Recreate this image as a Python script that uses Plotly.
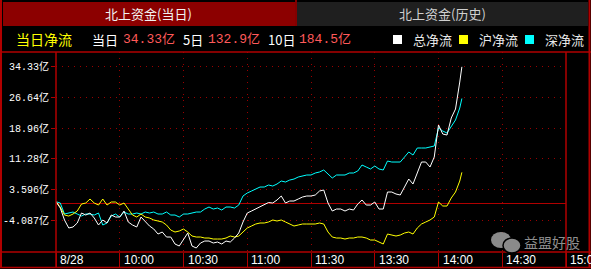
import plotly.graph_objects as go

W, H = 591, 269

# ---- data (亿) ----
minutes = list(range(0, 192, 2)) + [191]   # trading minutes since 9:30

total_flow = [0.55, -1.03, -4.03, -6.03, -5.78, -4.78, -2.28, -2.78, -2.28, -3.53,
              -5.28, -4.03, -4.78, -2.78, -3.28, -3.28, -1.78, -4.53, -5.28, -5.78,
              -3.28, -4.53, -5.53, -6.28, -7.54, -7.04, -8.29, -8.29, -10.04, -10.54,
              -9.04, -7.29, -10.54, -11.04, -9.79, -9.29, -9.29, -9.79, -9.54, -10.04,
              -9.29, -9.54, -8.54, -7.29, -4.53, -2.28, -1.78, -1.28, -0.78, -0.28,
              0.35, 0.23, 0.98, 1.98, 0.23, 0.73, 0.73, 1.23, 1.73, 1.98,
              1.98, 2.23, 3.23, 3.48, 0.23, -1.78, -1.28, -1.28, -1.78, -1.28,
              -1.53, -0.03, 0.98, -0.28, -0.28, 0.48, -1.28, -1.28, 2.98, 2.98,
              2.48, 2.23, 4.23, 6.23, 4.98, 7.99, 10.49, 10.49, 9.24, 11.74,
              19.76, 17.50, 17.25, 21.51, 23.76, 30.52, 34.33]

sh_flow = [0.55, -0.78, -2.78, -3.03, -2.53, -1.78, -0.03, 0.23, 1.23, 0.23,
           -0.28, 1.23, -0.28, 0.48, 0.48, -0.28, 0.23, -1.28, -2.78, -3.28,
           -2.53, -3.28, -3.53, -4.03, -4.28, -4.53, -5.28, -6.54, -7.04, -6.79,
           -6.28, -7.04, -8.04, -8.29, -8.29, -8.54, -8.54, -8.79, -8.79, -8.79,
           -8.54, -8.04, -8.29, -8.04, -7.04, -6.03, -5.53, -5.03, -4.78, -4.78,
           -4.53, -4.03, -4.28, -4.03, -4.53, -5.03, -5.53, -5.28, -5.03, -5.03,
           -5.03, -5.03, -4.78, -5.03, -7.04, -8.29, -8.54, -8.54, -8.79, -8.54,
           -8.54, -8.29, -8.29, -8.54, -9.04, -9.04, -9.54, -10.04, -7.54, -7.79,
           -8.04, -7.79, -7.29, -7.04, -7.54, -6.03, -5.03, -4.53, -4.03, -3.28,
           0.48, -0.53, -0.53, 1.48, 2.98, 5.73, 7.9]

sz_flow = [0.55, 0.23, -2.53, -2.28, -2.03, -2.53, -3.03, -2.53, -2.53, -2.78,
           -2.28, -5.28, -4.78, -3.03, -2.53, -3.28, -2.03, -2.53, -2.53, -2.28,
           -2.53, -2.03, -2.28, -2.03, -2.53, -2.53, -2.03, -2.78, -2.78, -3.28,
           -2.53, -2.53, -2.28, -2.03, -2.03, -1.28, -0.78, -1.28, -1.03, -1.53,
           -0.78, -0.78, -1.03, -0.28, 1.98, 2.73, 3.23, 3.73, 4.23, 4.23,
           4.73, 4.48, 4.98, 5.73, 5.48, 5.98, 6.23, 6.74, 6.99, 7.24,
           7.24, 7.74, 7.99, 8.49, 7.49, 6.49, 7.24, 7.24, 7.24, 7.74,
           7.74, 8.24, 9.74, 9.24, 8.74, 9.49, 8.74, 8.49, 10.74, 10.49,
           10.49, 10.49, 11.74, 13.00, 12.24, 14.00, 14.00, 14.00, 14.25, 14.50,
           19.01, 18.25, 17.75, 19.51, 21.01, 24.01, 26.4]

y_tickvals = [34.33, 26.64, 18.96, 11.28, 3.596, -4.087]
y_ticktext = ["34.33亿", "26.64亿", "18.96亿", "11.28亿", "3.596亿", "-4.087亿"]
x_tickvals = [0, 30, 60, 90, 120, 150, 180, 210, 240]
x_ticktext = ["8/28", "10:00", "10:30", "11:00", "11:30", "13:30", "14:00", "14:30", "15:00"]

summary_labels = ["当日", "5日", "10日"]
summary_values = ["34.33亿", "132.9亿", "184.5亿"]
legend_names = ["总净流", "沪净流", "深净流"]
colors = ["#ffffff", "#ffff00", "#00ffff"]

RED = "#b00000"
DOT = "#9a0000"
MONO = "Liberation Mono, Noto Sans CJK SC, monospace"
CJK = "Noto Sans CJK SC, sans-serif"


def px(x):
    return x / W


def py(y):
    return 1 - y / H


fig = go.Figure()
for name, ys, c in [(legend_names[2], sz_flow, colors[2]),
                    (legend_names[1], sh_flow, colors[1]),
                    (legend_names[0], total_flow, colors[0])]:
    fig.add_trace(go.Scatter(x=minutes, y=ys, mode="lines", name=name,
                             line=dict(color=c, width=1), hoverinfo="skip"))

shapes = []
# tabs
shapes.append(dict(type="rect", xref="paper", yref="paper", x0=px(3), x1=px(295),
                   y0=py(26), y1=py(2), fillcolor="#8c0000", line=dict(width=0), layer="below"))
shapes.append(dict(type="rect", xref="paper", yref="paper", x0=px(297), x1=px(588),
                   y0=py(26), y1=py(2), fillcolor="#1f1f1f", line=dict(width=0), layer="below"))


def hline(y, x0=0, x1=W, w=1.5):
    shapes.append(dict(type="line", xref="paper", yref="paper", x0=px(x0), x1=px(x1),
                       y0=py(y), y1=py(y), line=dict(color=RED, width=w)))


def vline(x, y0=0, y1=H, w=1.5):
    shapes.append(dict(type="line", xref="paper", yref="paper", x0=px(x), x1=px(x),
                       y0=py(y0), y1=py(y1), line=dict(color=RED, width=w)))


hline(52)
hline(252)
hline(267.5)
vline(1, 0, 268, 2)
vline(589.5, 0, 268, 2)
vline(296, 0, 26, 1.5)
vline(56, 52, 268)
vline(566, 52, 268)

# legend squares
for xs, c in zip([393, 459, 525], colors):
    shapes.append(dict(type="rect", xref="paper", yref="paper", x0=px(xs), x1=px(xs + 9),
                       y0=py(44), y1=py(35), fillcolor=c, line=dict(width=0)))

# watermark icon
shapes.append(dict(type="circle", xref="paper", yref="paper", x0=px(491), x1=px(511),
                   y0=py(248), y1=py(232), fillcolor="#8a8a8a", line=dict(width=0)))
shapes.append(dict(type="circle", xref="paper", yref="paper", x0=px(503), x1=px(521),
                   y0=py(253), y1=py(238), fillcolor="#8a8a8a", line=dict(color="#000000", width=1.5)))

annotations = []


def text(x, y, s, color, size, family, anchor="left"):
    annotations.append(dict(x=px(x), y=py(y), xref="paper", yref="paper",
                            text=s, showarrow=False, xanchor=anchor, yanchor="middle",
                            font=dict(color=color, size=size, family=family)))


text(148, 14, "北上资金(当日)", "#f2f2f2", 13, CJK, "center")
text(442, 14, "北上资金(历史)", "#d0d0d0", 13, CJK, "center")
text(14, 39, "当日净流", "#ffff00", 14, CJK)
for lx, vx, lab, val in zip([90, 181, 266], [121, 206, 297], summary_labels, summary_values):
    text(lx, 39, lab, "#ffffff", 13, CJK)
    text(vx, 39, val, "#ff5a5a", 13, MONO)
for tx, name in zip([411, 477, 543], legend_names):
    text(tx, 39, name, "#e8e8e8", 13, CJK)
text(522, 242, "益盟好股", "#8f8f8f", 14, CJK)

for v, t in zip(x_tickvals, x_ticktext):
    annotations.append(dict(x=v, y=py(260), xref="x", yref="paper", text=t, showarrow=False,
                            xanchor="left", yanchor="middle", xshift=2,
                            font=dict(color="#ffffff", size=12, family="Liberation Sans, Arial")))

fig.update_layout(
    width=W, height=H,
    margin=dict(l=0, r=0, t=0, b=0),
    paper_bgcolor="#000000", plot_bgcolor="#000000",
    showlegend=False,
    shapes=shapes,
    annotations=annotations,
    xaxis=dict(domain=[px(56), px(566)], range=[0, 240], tickvals=x_tickvals,
               showticklabels=False, ticks="outside", ticklen=15, tickcolor=RED, tickwidth=1,
               showgrid=True, gridcolor=DOT, griddash="1px,5px", gridwidth=1,
               zeroline=False, showline=False, fixedrange=True),
    yaxis=dict(domain=[py(252), py(52)], range=[-12.04, 38.04], tickvals=y_tickvals,
               ticktext=y_ticktext, ticks="outside", ticklen=4, tickcolor=RED,
               tickfont=dict(color="#ffffff", size=10, family=MONO),
               showgrid=True, gridcolor=DOT, griddash="1px,5px", gridwidth=1,
               zeroline=True, zerolinecolor=RED, zerolinewidth=1,
               showline=False, fixedrange=True),
)

fig.write_html("out.html")
